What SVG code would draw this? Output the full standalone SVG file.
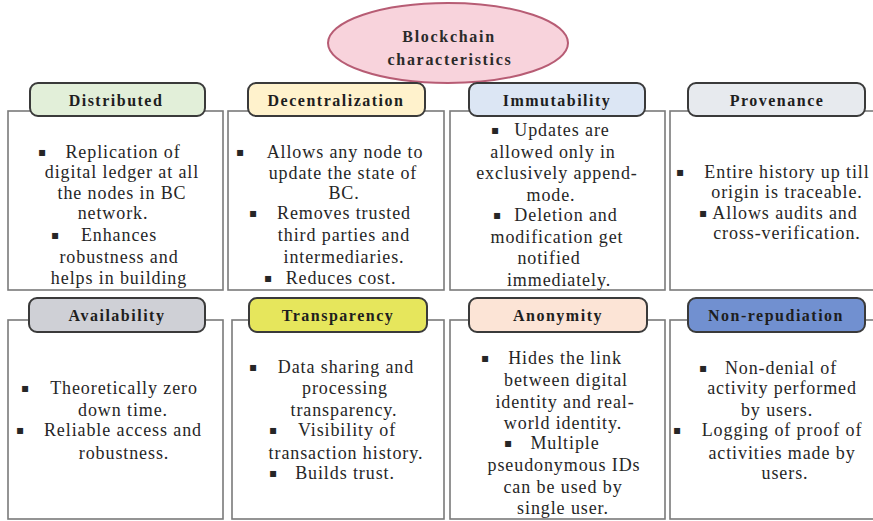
<svg xmlns="http://www.w3.org/2000/svg" width="873" height="521" viewBox="0 0 873 521">
<style>
.box{fill:#fff;stroke:#7a7a7a;stroke-width:1.6}
.lab{stroke:#3a3a3a;stroke-width:2}
.lt{font-family:"Liberation Serif","Times New Roman",serif;font-weight:bold;font-size:16px;letter-spacing:1.5px;fill:#1e1e1e;text-anchor:middle}
.t{font-family:"Liberation Serif","Times New Roman",serif;font-size:18px;letter-spacing:0.9px;fill:#262626;text-anchor:middle}
.b{font-family:"DejaVu Sans",sans-serif;font-size:12px;fill:#262626;text-anchor:middle}
.et{font-family:"Liberation Serif","Times New Roman",serif;font-weight:bold;font-size:16px;letter-spacing:1.7px;fill:#2a2a2a;text-anchor:middle}
</style>
<rect x="0" y="0" width="873" height="521" fill="#fff"/>

<g id="title">
<ellipse cx="448" cy="43" rx="120" ry="40" fill="#f8d3dc" stroke="#b75c74" stroke-width="2"/>
<text class="et" x="449" y="42">Blockchain</text>
<text class="et" x="450" y="65">characteristics</text>
</g>

<g id="distributed">
<rect class="box" x="8" y="111" width="215" height="179"/>
<rect class="lab" x="30" y="83" width="175" height="33" rx="8" fill="#e2efd9"/>
<text class="lt" x="116" y="106">Distributed</text>
<text class="b" x="42" y="156">▪</text>
<text class="t" x="123" y="158">Replication of</text>
<text class="t" x="122" y="178">digital ledger at all</text>
<text class="t" x="122" y="199">the nodes in BC</text>
<text class="t" x="113" y="219">network.</text>
<text class="b" x="55" y="239">▪</text>
<text class="t" x="119" y="241">Enhances</text>
<text class="t" x="119" y="263">robustness and</text>
<text class="t" x="119" y="284">helps in building</text>
</g>

<g id="decentralization">
<rect class="box" x="228" y="111" width="216" height="179"/>
<rect class="lab" x="248" y="83" width="177" height="33" rx="8" fill="#fff2cc"/>
<text class="lt" x="336" y="106">Decentralization</text>
<text class="b" x="240" y="156">▪</text>
<text class="t" x="345" y="158">Allows any node to</text>
<text class="t" x="343" y="179">update the state of</text>
<text class="t" x="344" y="199">BC.</text>
<text class="b" x="253" y="217">▪</text>
<text class="t" x="344" y="219">Removes trusted</text>
<text class="t" x="344" y="241">third parties and</text>
<text class="t" x="344" y="263">intermediaries.</text>
<text class="b" x="268" y="282">▪</text>
<text class="t" x="341" y="284">Reduces cost.</text>
</g>

<g id="immutability">
<rect class="box" x="450" y="111" width="215" height="179"/>
<rect class="lab" x="469" y="83" width="176" height="33" rx="8" fill="#dce6f4"/>
<text class="lt" x="557" y="106">Immutability</text>
<text class="b" x="495" y="134">▪</text>
<text class="t" x="562" y="136">Updates are</text>
<text class="t" x="553" y="158">allowed only in</text>
<text class="t" x="557" y="179">exclusively append-</text>
<text class="t" x="551" y="201">mode.</text>
<text class="b" x="497" y="219">▪</text>
<text class="t" x="566" y="221">Deletion and</text>
<text class="t" x="557" y="243">modification get</text>
<text class="t" x="549" y="264">notified</text>
<text class="t" x="559" y="286">immediately.</text>
</g>

<g id="provenance">
<rect class="box" x="670" y="111" width="215" height="179"/>
<rect class="lab" x="688" y="83" width="177" height="33" rx="8" fill="#e7eaee"/>
<text class="lt" x="777" y="106">Provenance</text>
<text class="b" x="680" y="176">▪</text>
<text class="t" x="787" y="178">Entire history up till</text>
<text class="t" x="787" y="198">origin is traceable.</text>
<text class="b" x="703" y="217">▪</text>
<text class="t" x="785" y="219">Allows audits and</text>
<text class="t" x="787" y="239">cross-verification.</text>
</g>

<g id="availability">
<rect class="box" x="8" y="320" width="215" height="199"/>
<rect class="lab" x="29" y="298" width="176" height="34" rx="8" fill="#cfd0d6"/>
<text class="lt" x="117" y="321">Availability</text>
<text class="b" x="25" y="392">▪</text>
<text class="t" x="124" y="394">Theoretically zero</text>
<text class="t" x="123" y="416">down time.</text>
<text class="b" x="20" y="434">▪</text>
<text class="t" x="123" y="436">Reliable access and</text>
<text class="t" x="124" y="459">robustness.</text>
</g>

<g id="transparency">
<rect class="box" x="232" y="320" width="212" height="199"/>
<rect class="lab" x="249" y="298" width="178" height="34" rx="8" fill="#e6e65c"/>
<text class="lt" x="338" y="321">Transparency</text>
<text class="b" x="253" y="371">▪</text>
<text class="t" x="346" y="373">Data sharing and</text>
<text class="t" x="345" y="394">processing</text>
<text class="t" x="344" y="416">transparency.</text>
<text class="b" x="273" y="434">▪</text>
<text class="t" x="347" y="436">Visibility of</text>
<text class="t" x="346" y="459">transaction history.</text>
<text class="b" x="273" y="477">▪</text>
<text class="t" x="345" y="479">Builds trust.</text>
</g>

<g id="anonymity">
<rect class="box" x="450" y="320" width="215" height="199"/>
<rect class="lab" x="469" y="298" width="178" height="34" rx="8" fill="#fce4d6"/>
<text class="lt" x="558" y="321">Anonymity</text>
<text class="b" x="485" y="362">▪</text>
<text class="t" x="565" y="364">Hides the link</text>
<text class="t" x="566" y="386">between digital</text>
<text class="t" x="565" y="408">identity and real-</text>
<text class="t" x="563" y="429">world identity.</text>
<text class="b" x="508" y="447">▪</text>
<text class="t" x="565" y="449">Multiple</text>
<text class="t" x="564" y="471">pseudonymous IDs</text>
<text class="t" x="563" y="493">can be used by</text>
<text class="t" x="563" y="514">single user.</text>
</g>

<g id="non-repudiation">
<rect class="box" x="670" y="320" width="215" height="199"/>
<rect class="lab" x="688" y="298" width="177" height="34" rx="8" fill="#7190d0"/>
<text class="lt" x="776" y="321">Non-repudiation</text>
<text class="b" x="703" y="372">▪</text>
<text class="t" x="781" y="374">Non-denial of</text>
<text class="t" x="782" y="394">activity performed</text>
<text class="t" x="777" y="416">by users.</text>
<text class="b" x="677" y="434">▪</text>
<text class="t" x="782" y="436">Logging of proof of</text>
<text class="t" x="782" y="459">activities made by</text>
<text class="t" x="785" y="479">users.</text>
</g>
</svg>
